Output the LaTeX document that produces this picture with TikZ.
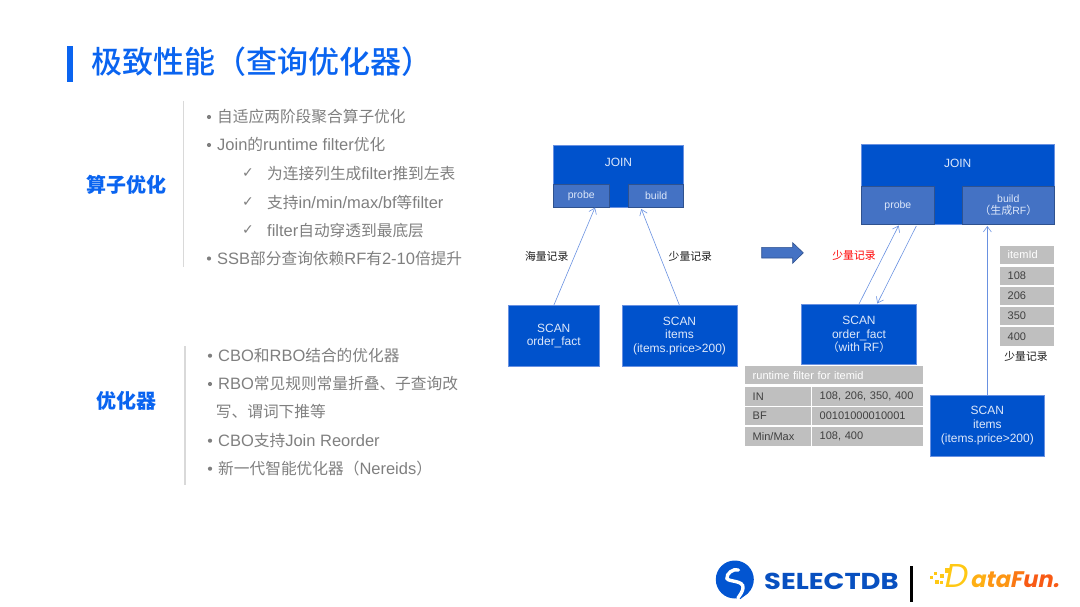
\documentclass[tikz,border=0pt]{standalone}
\usepackage{fontspec}
\setmainfont[Kerning=Off]{Noto Sans CJK SC}
\newfontfamily\cjk[Kerning=Off]{Noto Sans CJK SC}
\newfontfamily\titlefont[Kerning=Off,UprightFont=* Medium]{Noto Sans CJK SC}
\newfontfamily\latin[Scale=1.05]{Liberation Sans}
\newfontfamily\checkfont{DejaVu Sans}
\newfontfamily\logofont[FakeStretch=1.19]{Poppins}
\newfontfamily\funfont[FakeSlant=0.2]{Poppins}
\usetikzlibrary{arrows.meta}
\definecolor{sdBlue}{RGB}{10,100,240}
\definecolor{boxBlue}{RGB}{0,82,204}
\definecolor{boxEdge}{RGB}{105,145,225}
\definecolor{subBlue}{RGB}{68,114,196}
\definecolor{subEdge}{RGB}{47,82,143}
\definecolor{cellGrey}{RGB}{191,191,191}
\definecolor{listGrey}{RGB}{127,127,127}
\definecolor{ruleGrey}{RGB}{217,217,217}
\definecolor{boxText}{RGB}{222,232,250}
\definecolor{funA}{RGB}{255,200,20}
\definecolor{funB}{RGB}{253,150,20}
\definecolor{funC}{RGB}{248,90,20}

\begin{document}
\begin{tikzpicture}[
  x=1pt, y=-1pt,
  bluebox/.style={draw=boxEdge, fill=boxBlue, text=boxText, line width=0.6pt, align=center,
                  inner sep=0pt, font=\fontsize{11.4}{13.7}\selectfont\latin},
  subbox/.style={draw=subEdge, fill=subBlue, text=boxText, line width=0.8pt, align=center,
                 inner sep=0pt, font=\fontsize{10}{12}\selectfont\latin},
  cell/.style={fill=cellGrey, text=black!75, anchor=north west, align=left, inner xsep=7.5pt,
               inner ysep=0pt, minimum height=18.2pt, font=\fontsize{10.5}{13}\selectfont\latin},
  flow/.style={-{Straight Barb[length=5.5pt,width=8pt]}, line width=0.6pt, draw=boxEdge},
  rec/.style={font=\fontsize{10.8}{13}\selectfont, text=black!90},
  head/.style={font=\fontsize{20}{24}\selectfont\bfseries, text=sdBlue},
  item/.style={font=\fontsize{15.7}{19}\selectfont, text=listGrey, anchor=west, inner sep=0pt},
  dot/.style={circle, fill=listGrey, inner sep=0pt, minimum size=4.2pt},
  tick/.style={font=\fontsize{14}{15}\selectfont\checkfont, text=listGrey},
  rule/.style={draw=ruleGrey, line width=1.4pt},
]
\useasboundingbox (0,0) rectangle (1080,607);

% ---------------- title ----------------
\fill[sdBlue] (66.7,46) rectangle (73.3,81.7);
\node[anchor=west, inner sep=0pt, text=sdBlue, font=\fontsize{31}{36}\selectfont\titlefont]
  (title) at (91,62) {极致性能（查询优化器）};

% ---------------- left lists ----------------
\draw[rule] (183.7,101) -- (183.7,267);
\node[head] (opHead) at (126.7,185) {算子优化};
\foreach \y/\t in {117/自适应两阶段聚合算子优化, 145/{\latin Join}的{\latin runtime filter}优化,
                   258.5/{\latin SSB}部分查询依赖{\latin RF}有{\latin 2-10}倍提升} {
  \node[dot] at (209,\y) {};
  \node[item] at (217,\y) {\t};
}
\foreach \y/\t in {173.5/为连接列生成{\latin filter}推到左表, 202/支持{\latin in/min/max/bf}等{\latin filter},
                   230.5/{\latin filter}自动穿透到最底层} {
  \node[tick] at (248,\y) {✓};
  \node[item] at (267,\y) {\t};
}

\draw[rule] (185,346) -- (185,485);
\node[head] (cboHead) at (126.7,400.7) {优化器};
\foreach \y/\t in {355.7/{\latin CBO}和{\latin RBO}结合的优化器, 384/{\latin RBO}常见规则常量折叠、子查询改,
                   440.7/{\latin CBO}支持{\latin Join Reorder}, 468.7/新一代智能优化器（{\latin Nereids}）} {
  \node[dot] at (210,\y) {};
  \node[item] at (218,\y) {\t};
}
\node[item] at (215.7,412) {写、谓词下推等};

% ---------------- plan before ----------------
\node[bluebox, minimum width=129.3pt, minimum height=62pt] (joinA) at (618.4,176.3) {};
\node[text=boxText, font=\fontsize{11.4}{13.7}\selectfont\latin] (joinTextA) at (618.4,162.5) {JOIN};
\node[subbox, minimum width=55.5pt, minimum height=23pt] (probeA) at (581.3,195.8) {probe};
\node[subbox, minimum width=55pt, minimum height=23pt] (buildA) at (656.2,195.8) {build};
\node[bluebox, minimum width=91.5pt, minimum height=60.6pt] (scanFactA) at (553.75,336) {SCAN\\order\_fact};
\node[bluebox, minimum width=115pt, minimum height=60.6pt] (scanItemsA) at (679.5,336) {SCAN\\items\\(items.price>200)};
\coordinate (probeTipA) at (595,207.5);
\coordinate (buildTipA) at (641.3,209);
\draw[flow] (scanFactA.north) -- (probeTipA);
\draw[flow] (scanItemsA.north) -- (buildTipA);
\node[rec] (manyRec) at (546.7,256) {海量记录};
\node[rec] (fewRecA) at (690.3,256) {少量记录};

% big arrow between the two plans
\fill[subBlue, draw=subEdge, line width=0.6pt] (761.7,247.3) -- (792.7,247.3) -- (792.7,242.7) -- (803.3,252.8)
  -- (792.7,263.3) -- (792.7,258) -- (761.7,258) -- cycle;

% ---------------- plan after ----------------
\node[bluebox, minimum width=193.3pt, minimum height=79.6pt] (joinB) at (957.65,184.5) {};
\node[text=boxText, font=\fontsize{11.4}{13.7}\selectfont\latin] (joinTextB) at (957.65,163.7) {JOIN};
\node[subbox, minimum width=73.7pt, minimum height=37.6pt] (probeB) at (897.85,205.5) {probe};
\node[subbox, minimum width=92pt, minimum height=37.6pt] (buildB) at (1008.3,205.5)
  {build\\{\fontsize{11}{12}\selectfont\cjk（生成}RF{\fontsize{11}{12}\selectfont\cjk ）}};
\node[bluebox, minimum width=114.6pt, minimum height=60.4pt] (scanFactB) at (859,334.5) {SCAN\\order\_fact\\{\cjk （}with RF{\cjk ）}};
\node[bluebox, minimum width=114.7pt, minimum height=61.3pt] (scanItemsB) at (987.35,425.65) {SCAN\\items\\(items.price>200)};
\coordinate (probeTipB) at (898.7,225.5);
\coordinate (probeOutB) at (916.3,226);
\coordinate (factTipB) at (877.3,303.5);
\coordinate (buildTipB) at (987.35,226);
\draw[flow] (scanFactB.north) -- (probeTipB);
\draw[flow] (probeOutB) -- (factTipB);
\draw[flow] (scanItemsB.north) -- (buildTipB);
\node[rec, text=red] (fewRecB) at (854,255.3) {少量记录};

% itemId column
\node[cell, text=white, minimum width=53.3pt, text width=38.3pt] (itemHead) at (1000,245.5) {itemId};
\foreach \i/\y/\t in {1/266.8/108, 2/286.6/206, 3/306.8/350, 4/327.1/400}
  \node[cell, minimum width=53.3pt, text width=38.3pt] (itemRow\i) at (1000,\y) {\t};
\node[rec] (fewRecC) at (1026,356.7) {少量记录};

% runtime filter table
\node[cell, text=white, minimum width=177.7pt, text width=162.7pt] (rfHead) at (745,366) {runtime filter for itemid};
\foreach \i/\y/\k/\v in {1/387.2/IN/{108, 206, 350, 400}, 2/406.9/BF/00101000010001, 3/427.1/Min\slash Max/{108, 400}} {
  \node[cell, minimum width=65.7pt, text width=50.7pt] (rfKey\i) at (745,\y) {\k};
  \node[cell, minimum width=110.7pt, text width=95.7pt] (rfVal\i) at (812,\y) {\v};
}

% ---------------- logos ----------------
\fill[boxBlue!85!sdBlue] (734.8,579.5) circle (19);
\fill[boxBlue!85!sdBlue] (724,595) -- (740.5,599) -- (748,593) -- cycle;
\draw[white, line width=3.4pt, line cap=round]
  (738.5,570) .. controls (733,568) and (726,574) .. (727,578.5)
  .. controls (728,582) and (744,580) .. (743,588) .. controls (742.5,592) and (740,595) .. (738,598);
\node[anchor=west, inner sep=0pt, text=sdBlue!80!black, font=\fontsize{23}{26}\selectfont\logofont\bfseries]
  (selectdb) at (764,581.5) {SELECTDB};
\draw[black, line width=2.4pt] (911.3,566) -- (911.3,601.7);
\foreach \x/\y/\s in {930/576/3, 934/572/3, 935/580/3.5, 940/574/4, 940/581/3, 945/568/4.5}
  \fill[funA] (\x,\y) rectangle ++(\s,\s);
\node[anchor=base west, inner sep=0pt, text=funA, font=\fontsize{33}{36}\selectfont\funfont]
  (dataD) at (943,587) {D};
\node[anchor=base west, inner sep=0pt, font=\fontsize{22.5}{26}\selectfont\funfont\bfseries]
  (dataRest) at (970,587) {\textcolor{funA!50!funB}{a}\textcolor{funB}{ta}\textcolor{funB!50!funC}{F}\textcolor{funC}{un.}};
\end{tikzpicture}
\end{document}
